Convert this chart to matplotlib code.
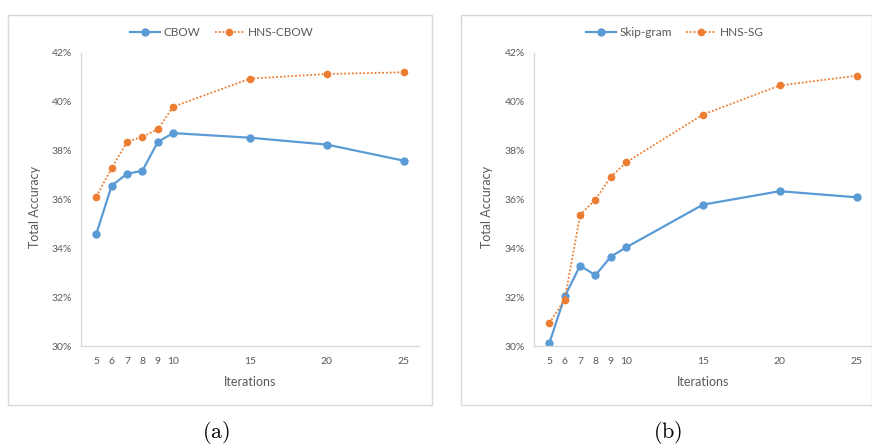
import matplotlib.pyplot as plt
from matplotlib.patches import Rectangle
from matplotlib.ticker import FuncFormatter

plt.rcParams['font.family'] = ['Lato', 'DejaVu Sans']
plt.rcParams['mathtext.fontset'] = 'cm'

iterations = [5, 6, 7, 8, 9, 10, 15, 20, 25]
cbow = [34.60, 36.57, 37.05, 37.18, 38.36, 38.72, 38.53, 38.25, 37.59]
hns_cbow = [36.12, 37.29, 38.36, 38.57, 38.88, 39.80, 40.95, 41.14, 41.21]
skipgram = [30.12, 32.03, 33.29, 32.90, 33.66, 34.04, 35.79, 36.34, 36.09]
hns_sg = [30.94, 31.90, 35.37, 36.00, 36.93, 37.52, 39.48, 40.67, 41.07]

y_ticks = [30, 32, 34, 36, 38, 40, 42]

BLUE = '#5B9BD5'
ORANGE = '#ED7D31'
GRAY = '#595959'
W, H = 872, 447

fig = plt.figure(figsize=(W / 100, H / 100), dpi=100)


def px(x0, y0, x1, y1):
    # pixel box -> figure fraction [left, bottom, width, height]
    return [x0 / W, 1 - y1 / H, (x1 - x0) / W, (y1 - y0) / H]


def panel(box, ax_box, ylab_x, base, hns, names, legend_x, caption, caption_x):
    l, b, w, h = px(*box)
    fig.patches.append(Rectangle((l, b), w, h, transform=fig.transFigure,
                                 fill=False, edgecolor='#d9d9d9', linewidth=1.0))
    ax = fig.add_axes(px(*ax_box))
    ax.plot(iterations, base, color=BLUE, linewidth=1.6, marker='o',
            markersize=5, label=names[0])
    ax.plot(iterations, hns, color=ORANGE, linewidth=1.3, linestyle=(0, (1, 1.1)),
            marker='o', markersize=4.5, label=names[1])
    ax.set_xlim(4, 26)
    ax.set_ylim(30, 42)
    ax.set_xticks(iterations)
    ax.set_yticks(y_ticks)
    ax.yaxis.set_major_formatter(FuncFormatter(lambda v, p: f'{v:.0f}%'))
    ax.tick_params(length=0, labelsize=7.5, colors=GRAY)
    ax.tick_params(axis='y', pad=6.5)
    ax.tick_params(axis='x', pad=8)
    for s in ['top', 'right']:
        ax.spines[s].set_visible(False)
    for s in ['left', 'bottom']:
        ax.spines[s].set_color('#d9d9d9')
        ax.spines[s].set_linewidth(1.0)
    ax.patch.set_alpha(0)
    fig.text(ylab_x / W, 1 - 207 / H, 'Total Accuracy', rotation=90,
             ha='center', va='center', fontsize=9, color=GRAY)
    fig.text((ax_box[0] + ax_box[2]) / 2 / W, 1 - 382 / H, 'Iterations',
             ha='center', va='center', fontsize=9, color=GRAY)
    fig.legend(handles=ax.get_lines(), loc='center', ncol=2,
               bbox_to_anchor=(legend_x / W, 1 - 33 / H), frameon=False,
               fontsize=8.5, handlelength=2.5, handletextpad=0.35,
               columnspacing=1.2, labelcolor=GRAY)
    fig.text(caption_x / W, 1 - 433 / H, caption, ha='center', va='center',
             fontsize=16)
    return ax


panel((8, 15, 432, 405), (81, 53, 419, 346), 35, cbow, hns_cbow,
      ['CBOW', 'HNS-CBOW'], 222, r'$\mathrm{(a)}$', 216)
panel((461, 15, 871.5, 405), (534, 53, 872, 346), 487, skipgram, hns_sg,
      ['Skip-gram', 'HNS-SG'], 675, r'$\mathrm{(b)}$', 668)

fig.savefig('out.png', dpi=100)
